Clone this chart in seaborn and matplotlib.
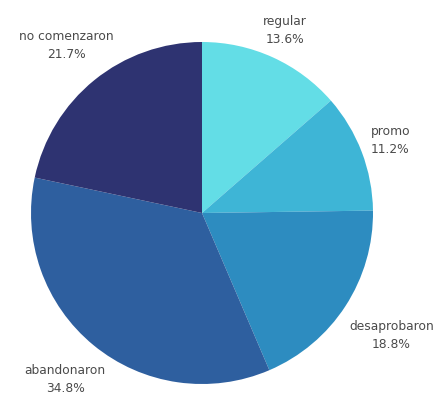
import numpy as np
import matplotlib
matplotlib.use("Agg")
import matplotlib.pyplot as plt
import seaborn as sns

# Share of students by final status
categories = ["regular", "promo", "desaprobaron", "abandonaron", "no comenzaron"]
shares = [13.6, 11.2, 18.8, 34.8, 21.7]
pct_labels = ["13.6%", "11.2%", "18.8%", "34.8%", "21.7%"]
colors = ["#63dde6", "#3eb5d6", "#2d8cc0", "#2e5f9f", "#2e3371"]

# radial distance of each label block from the centre (in pie radii)
label_dist = [1.17, 1.18, 1.32, 1.26, 1.26]

sns.set_theme(style="white")
plt.rcParams["font.family"] = ["DejaVu Sans"]
palette = sns.color_palette(colors)

W, H = 443, 394
cx, cy, R = 202, 213, 171
fig = plt.figure(figsize=(W / 100, H / 100), dpi=100)
ax = fig.add_axes([(cx - R) / W, (H - cy - R) / H, 2 * R / W, 2 * R / H])
ax.axis("off")

wedges, _ = ax.pie(shares, colors=palette, startangle=90, counterclock=False,
                   radius=1.0, wedgeprops=dict(linewidth=0))
ax.set_xlim(-1, 1)
ax.set_ylim(-1, 1)
ax.set_aspect("equal")

for w, name, pct, d in zip(wedges, categories, pct_labels, label_dist):
    mid = np.deg2rad((w.theta1 + w.theta2) / 2)
    x, y = d * np.cos(mid), d * np.sin(mid)
    ax.text(x, y, f"{name}\n{pct}", ha="center", va="center", fontsize=8.8,
            color="#4a4a4a", linespacing=1.5, clip_on=False)

fig.savefig("out.png", dpi=100, facecolor="white")
